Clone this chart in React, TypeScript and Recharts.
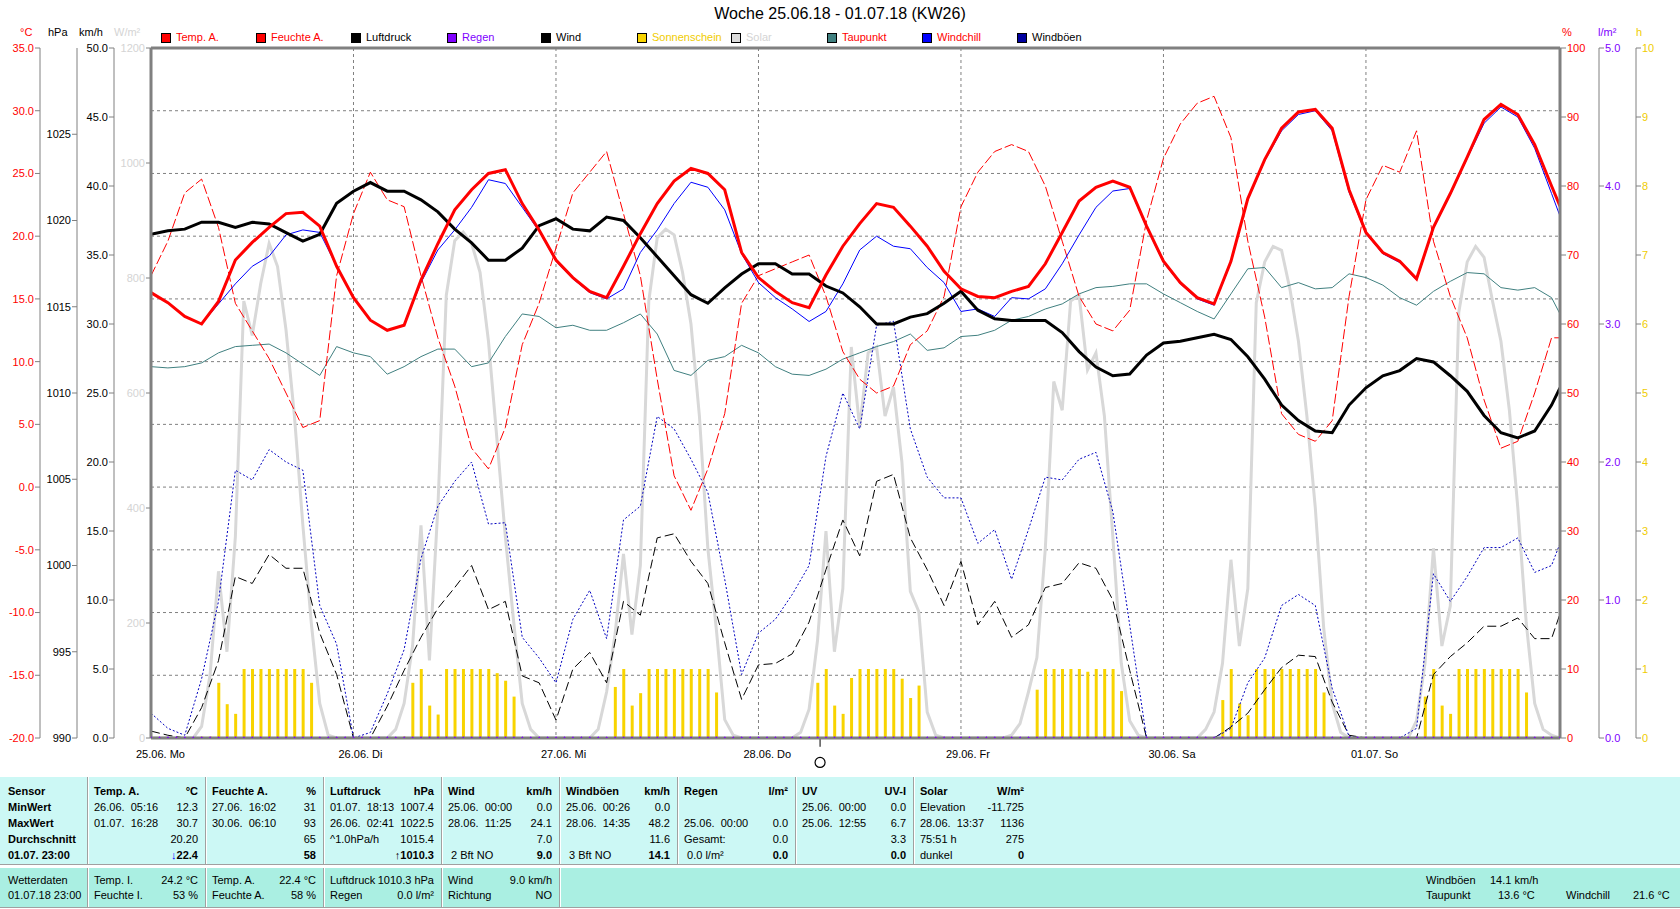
import React from "react";
import { Bar, CartesianGrid, ComposedChart, Line, ReferenceDot, ReferenceLine, XAxis, YAxis } from "recharts";

const FONT = '"Liberation Sans", Arial, sans-serif';

const dayTicks = [0, 24, 48, 72, 96, 120, 144];
const dayLabels = ["25.06. Mo", "26.06. Di", "27.06. Mi", "28.06. Do", "29.06. Fr", "30.06. Sa", "01.07. So"];

// 2-hourly readings: 00:00, 02:00 ... 22:00 per day, last value = 01.07. 23:00
const tempA = [
  15.5, 14.7, 13.6, 13.0, 14.8, 18.1, 19.5, 20.7, 21.8, 21.9, 20.8, 17.6,
  15.1, 13.3, 12.5, 12.9, 16.5, 19.4, 22.1, 23.7, 25.0, 25.3, 22.6, 20.5,
  18.1, 16.7, 15.6, 15.1, 17.6, 20.2, 22.6, 24.4, 25.4, 25.0, 23.7, 18.7,
  16.7, 15.6, 14.7, 14.3, 16.9, 19.2, 21.0, 22.6, 22.3, 20.8, 19.2, 17.2,
  15.8, 15.2, 15.1, 15.6, 16.0, 17.8, 20.3, 22.8, 23.9, 24.4, 23.9, 20.8,
  18.0, 16.3, 15.1, 14.6, 18.0, 23.0, 26.1, 28.6, 29.9, 30.1, 28.6, 23.7,
  20.3, 18.7, 18.0, 16.6, 20.7, 23.4, 26.3, 29.3, 30.5, 29.7, 27.3, 24.0, 22.4,
];
const windchill = [
  15.5, 14.7, 13.6, 13.0, 14.6, 16.2, 17.6, 18.4, 20.1, 20.5, 20.3, 17.6,
  15.1, 13.3, 12.5, 12.9, 16.3, 18.9, 20.5, 22.3, 24.5, 24.2, 22.3, 20.4,
  18.0, 16.6, 15.5, 15.0, 15.8, 18.7, 20.5, 22.6, 24.3, 23.9, 22.1, 18.6,
  16.3, 15.1, 14.2, 13.2, 14.0, 16.2, 18.9, 20.0, 19.2, 19.0, 17.5, 16.3,
  14.0, 14.2, 13.6, 15.1, 15.0, 15.8, 17.8, 20.1, 22.3, 23.6, 23.8, 20.7,
  17.9, 16.2, 15.0, 14.5, 17.9, 22.9, 26.0, 28.4, 29.7, 30.0, 28.4, 23.5,
  20.2, 18.6, 17.9, 16.5, 20.6, 23.3, 26.2, 29.0, 30.3, 29.5, 27.0, 23.4, 21.6,
];
const taupunkt = [
  9.6, 9.5, 9.6, 9.9, 10.7, 11.2, 11.3, 11.4, 10.7, 9.8, 8.9, 11.2,
  10.7, 10.4, 9.0, 9.6, 10.4, 11.0, 11.0, 9.6, 9.9, 12.0, 13.8, 13.6,
  12.7, 12.9, 12.5, 12.5, 13.1, 13.8, 12.2, 9.3, 8.9, 10.1, 10.4, 11.3,
  10.7, 9.6, 9.0, 8.9, 9.4, 10.2, 10.7, 11.2, 11.6, 12.2, 10.9, 11.1,
  12.0, 12.1, 12.5, 13.3, 13.6, 14.2, 14.6, 15.4, 15.9, 16.0, 16.2, 16.2,
  15.4, 14.7, 14.0, 13.4, 15.4, 17.4, 17.5, 15.9, 16.3, 15.8, 15.9, 17.0,
  16.7, 16.1, 15.1, 14.5, 15.6, 16.4, 17.1, 17.0, 15.9, 15.7, 15.9, 15.1, 13.8,
];
const luftdruck = [
  1019.2, 1019.4, 1019.5, 1019.9, 1019.9, 1019.6, 1019.9, 1019.8, 1019.3, 1018.8, 1019.2, 1021.0,
  1021.7, 1022.2, 1021.7, 1021.7, 1021.2, 1020.5, 1019.5, 1018.7, 1017.7, 1017.7, 1018.4, 1019.7,
  1020.1, 1019.5, 1019.4, 1020.2, 1020.0, 1019.0, 1017.9, 1016.8, 1015.7, 1015.2, 1016.1, 1016.9,
  1017.5, 1017.5, 1016.9, 1016.9, 1016.2, 1015.8, 1015.0, 1014.0, 1014.0, 1014.4, 1014.6, 1015.2,
  1015.9, 1014.8, 1014.3, 1014.2, 1014.2, 1014.2, 1013.5, 1012.4, 1011.5, 1011.0, 1011.1, 1012.2,
  1012.9, 1013.0, 1013.2, 1013.4, 1013.1, 1012.1, 1010.8, 1009.3, 1008.4, 1007.8, 1007.7, 1009.3,
  1010.3, 1011.0, 1011.3, 1012.0, 1011.8, 1011.0, 1010.1, 1008.7, 1007.7, 1007.4, 1007.8, 1009.3, 1010.3,
];
const feuchteA = [
  67, 72, 79, 81, 74, 63, 59, 55, 50, 45, 46, 67,
  76, 82, 78, 77, 67, 58, 51, 42, 39, 45, 57, 63,
  71, 79, 82, 85, 76, 67, 52, 38, 33, 39, 47, 63,
  67, 68, 69, 70, 64, 56, 52, 50, 51, 57, 59, 64,
  77, 82, 85, 86, 85, 80, 72, 64, 60, 59, 62, 75,
  84, 89, 92, 93, 87, 72, 61, 47, 44, 43, 46, 64,
  78, 83, 82, 88, 72, 64, 58, 49, 42, 43, 50, 58, 58,
];
const wind = [
  0.5, 0.2, 0.0, 2.2, 5.6, 11.7, 11.2, 13.3, 12.3, 12.3, 7.6, 4.6,
  0.0, 0.0, 2.3, 4.9, 7.3, 9.4, 10.9, 12.5, 9.3, 9.9, 4.5, 4.0,
  1.3, 5.0, 6.2, 4.0, 9.9, 8.9, 14.5, 14.8, 12.8, 11.2, 6.9, 2.8,
  5.3, 5.4, 6.1, 8.4, 12.2, 15.8, 13.2, 18.6, 19.1, 14.5, 12.2, 9.6,
  12.8, 8.2, 9.9, 7.3, 8.2, 10.9, 11.2, 12.7, 12.3, 10.0, 4.9, 0.0,
  0.0, 0.0, 0.0, 0.0, 0.8, 1.8, 3.5, 5.1, 6.0, 5.9, 2.6, 0.2,
  0.0, 0.0, 0.0, 0.0, 4.6, 5.9, 6.9, 8.1, 8.1, 8.7, 7.2, 7.2, 9.0,
];
const windboeen = [
  1.8, 0.7, 0.2, 4.3, 9.9, 19.4, 18.7, 20.9, 20.0, 19.4, 9.6, 6.8,
  0.0, 0.4, 3.2, 6.4, 13.0, 16.8, 18.6, 20.0, 15.5, 15.6, 7.3, 5.8,
  4.0, 8.6, 10.7, 7.2, 15.8, 16.8, 23.3, 22.4, 20.2, 17.8, 11.5, 4.6,
  7.6, 8.6, 10.4, 12.5, 20.4, 25.0, 22.4, 29.9, 30.2, 22.4, 18.9, 17.4,
  17.4, 14.1, 15.1, 11.5, 15.1, 18.9, 18.7, 20.2, 20.7, 16.4, 8.2, 0.0,
  0.0, 0.0, 0.0, 0.0, 0.7, 4.0, 5.8, 9.6, 10.4, 9.6, 3.6, 0.1,
  0.0, 0.0, 0.0, 0.7, 11.9, 9.9, 11.7, 13.8, 13.8, 14.5, 12.0, 12.5, 14.1,
];

// hourly readings, one row per day
const solar = [
  0, 0, 0, 0, 0, 0, 20, 110, 290, 150, 350, 760, 700, 790, 860, 820, 710, 560, 370, 200, 60, 5, 0, 0,
  0, 0, 0, 0, 0, 15, 60, 160, 370, 135, 400, 770, 865, 880, 860, 810, 690, 520, 350, 200, 60, 15, 0, 0,
  0, 0, 0, 0, 0, 15, 80, 180, 320, 180, 300, 760, 870, 885, 875, 810, 720, 560, 330, 190, 32, 5, 0, 0,
  0, 0, 0, 0, 0, 10, 50, 170, 360, 150, 260, 680, 540, 670, 680, 560, 610, 480, 255, 220, 45, 5, 0, 0,
  0, 0, 0, 0, 0, 0, 5, 25, 80, 140, 330, 620, 570, 760, 770, 640, 670, 560, 350, 130, 30, 5, 0, 0,
  0, 0, 0, 0, 0, 15, 45, 130, 310, 160, 260, 757, 828, 855, 848, 780, 690, 560, 400, 190, 60, 10, 0, 0,
  0, 0, 0, 0, 0, 0, 30, 130, 330, 160, 230, 740, 828, 855, 836, 760, 690, 570, 400, 200, 60, 15, 5, 0,
];
const sonnenschein = [
  0, 0, 0, 0, 0, 0, 0.02, 0.02, 0.8, 0.49, 0.35, 1, 1, 1, 1, 1, 1, 1, 1, 0.8, 0, 0, 0, 0,
  0, 0, 0, 0, 0, 0, 0.02, 0.8, 1, 0.47, 0.34, 1, 1, 1, 1, 1, 1, 0.94, 0.83, 0.6, 0, 0, 0, 0,
  0, 0, 0, 0, 0, 0, 0, 0.74, 1, 0.47, 0.65, 1, 1, 1, 1, 1, 1, 1, 1, 0.66, 0, 0, 0, 0,
  0, 0, 0, 0, 0, 0, 0, 0.8, 1, 0.47, 0.35, 0.87, 1, 1, 1, 1, 1, 0.86, 0.58, 0.76, 0, 0, 0, 0,
  0, 0, 0, 0, 0, 0, 0, 0, 0, 0.7, 1, 1, 1, 1, 1, 0.96, 1, 1, 1, 0.68, 0, 0, 0, 0,
  0, 0, 0, 0, 0, 0, 0, 0.55, 1, 0.5, 0.33, 1, 1, 1, 1, 1, 1, 1, 1, 0.66, 0, 0, 0, 0,
  0, 0, 0, 0, 0, 0, 0, 0.6, 1, 0.47, 0.35, 1, 1, 1, 1, 1, 1, 1, 1, 0.66, 0, 0, 0, 0,
];
const regen = [
  0, 0, 0, 0, 0, 0, 0, 0, 0, 0, 0, 0, 0, 0, 0, 0, 0, 0, 0, 0, 0, 0, 0, 0,
  0, 0, 0, 0, 0, 0, 0, 0, 0, 0, 0, 0, 0, 0, 0, 0, 0, 0, 0, 0, 0, 0, 0, 0,
  0, 0, 0, 0, 0, 0, 0, 0, 0, 0, 0, 0, 0, 0, 0, 0, 0, 0, 0, 0, 0, 0, 0, 0,
  0, 0, 0, 0, 0, 0, 0, 0, 0, 0, 0, 0, 0, 0, 0, 0, 0, 0, 0, 0, 0, 0, 0, 0,
  0, 0, 0, 0, 0, 0, 0, 0, 0, 0, 0, 0, 0, 0, 0, 0, 0, 0, 0, 0, 0, 0, 0, 0,
  0, 0, 0, 0, 0, 0, 0, 0, 0, 0, 0, 0, 0, 0, 0, 0, 0, 0, 0, 0, 0, 0, 0, 0,
  0, 0, 0, 0, 0, 0, 0, 0, 0, 0, 0, 0, 0, 0, 0, 0, 0, 0, 0, 0, 0, 0, 0, 0,
];

const tempTicks = [-20, -15, -10, -5, 0, 5, 10, 15, 20, 25, 30, 35];
const hpaTicks = [990, 995, 1000, 1005, 1010, 1015, 1020, 1025];
const kmhTicks = [0, 5, 10, 15, 20, 25, 30, 35, 40, 45, 50];
const solarTicks = [0, 200, 400, 600, 800, 1000, 1200];
const humTicks = [0, 10, 20, 30, 40, 50, 60, 70, 80, 90, 100];
const rainTicks = [0, 1, 2, 3, 4, 5];
const sunTicks = [0, 1, 2, 3, 4, 5, 6, 7, 8, 9, 10];

const rows: any[] = [];
for (let h = 0; h < 168; h++) {
  const j = h === 167 ? 84 : h % 2 === 0 ? h / 2 : -1;
  const pick = (a: number[]) => (j >= 0 ? a[j] : null);
  rows.push({
    h,
    sun: sonnenschein[h],
    solar: solar[h],
    rain: regen[h],
    temp: pick(tempA),
    chill: pick(windchill),
    dew: pick(taupunkt),
    press: pick(luftdruck),
    hum: pick(feuchteA),
    wind: pick(wind),
    gust: pick(windboeen),
  });
}

const legendItems = [
  { label: "Temp. A.", box: "#ff0000", text: "#ff0000", x: 161 },
  { label: "Feuchte A.", box: "#ff0000", text: "#ff0000", x: 256 },
  { label: "Luftdruck", box: "#000000", text: "#000000", x: 351 },
  { label: "Regen", box: "#8000ff", text: "#8000ff", x: 447 },
  { label: "Wind", box: "#000000", text: "#000000", x: 541 },
  { label: "Sonnenschein", box: "#f8d400", text: "#f0cc00", x: 637 },
  { label: "Solar", box: "#dcdcdc", text: "#d4d4d4", x: 731 },
  { label: "Taupunkt", box: "#408080", text: "#ff0000", x: 827 },
  { label: "Windchill", box: "#0000ff", text: "#ff0000", x: 922 },
  { label: "Windböen", box: "#0000a0", text: "#000000", x: 1017 },
];

const unitLabels = [
  { t: "°C", x: 20, c: "#ff0000" },
  { t: "hPa", x: 48, c: "#000000" },
  { t: "km/h", x: 79, c: "#000000" },
  { t: "W/m²", x: 114, c: "#d4d4d4" },
  { t: "%", x: 1562, c: "#ff0000" },
  { t: "l/m²", x: 1598, c: "#8000ff" },
  { t: "h", x: 1636, c: "#f0cc00" },
];

const sensorLabels = ["Sensor", "MinWert", "MaxWert", "Durchschnitt", "01.07. 23:00"];
const statCols = [
  { head: "Temp. A.", unit: "°C", left: ["26.06.  05:16", "01.07.  16:28", "", ""], right: ["12.3", "30.7", "20.20", "22.4"], arrow: "↓", arrowColor: "#0000ff" },
  { head: "Feuchte A.", unit: "%", left: ["27.06.  16:02", "30.06.  06:10", "", ""], right: ["31", "93", "65", "58"] },
  { head: "Luftdruck", unit: "hPa", left: ["01.07.  18:13", "26.06.  02:41", "^1.0hPa/h", ""], right: ["1007.4", "1022.5", "1015.4", "1010.3"], arrow: "↑", arrowColor: "#000000" },
  { head: "Wind", unit: "km/h", left: ["25.06.  00:00", "28.06.  11:25", "", " 2 Bft NO"], right: ["0.0", "24.1", "7.0", "9.0"] },
  { head: "Windböen", unit: "km/h", left: ["25.06.  00:26", "28.06.  14:35", "", " 3 Bft NO"], right: ["0.0", "48.2", "11.6", "14.1"] },
  { head: "Regen", unit: "l/m²", left: ["", "25.06.  00:00", "Gesamt:", " 0.0 l/m²"], right: ["", "0.0", "0.0", "0.0"] },
  { head: "UV", unit: "UV-I", left: ["25.06.  00:00", "25.06.  12:55", "", ""], right: ["0.0", "6.7", "3.3", "0.0"] },
  { head: "Solar", unit: "W/m²", left: ["Elevation", "28.06.  13:37", "75:51 h", "dunkel"], right: ["-11.725", "1136", "275", "0"] },
];
const nowCols = [
  { a: ["Temp. I.", "Feuchte I."], b: ["24.2 °C", "53 %"] },
  { a: ["Temp. A.", "Feuchte A."], b: ["22.4 °C", "58 %"] },
  { a: ["Luftdruck", "Regen"], b: ["1010.3 hPa", "0.0 l/m²"] },
  { a: ["Wind", "Richtung"], b: ["9.0 km/h", "NO"] },
];

const DayTick = (props: any) => {
  const { x, y, index } = props;
  return (
    <text x={x - 15} y={y + 12} fontSize={11} fill="#000" fontFamily={FONT}>
      {dayLabels[index]}
    </text>
  );
};

const axisGray = "#808080";
const yCommon = {
  axisLine: { stroke: axisGray },
  tickLine: { stroke: axisGray },
  tickSize: 5,
  tickMargin: 1,
  interval: 0 as const,
  allowDataOverflow: true,
};

function Table() {
  const colW = 118;
  const base = 87;
  const txt: React.CSSProperties = { position: "absolute", fontSize: 11, whiteSpace: "pre", lineHeight: "13px" };
  const rowY = [8, 24, 40, 56, 72];
  return (
    <>
      <div style={{ position: "absolute", left: 0, top: 777, width: 1680, height: 88, background: "#ccf8f5" }}>
        {sensorLabels.map((s, i) => (
          <div key={s} style={{ ...txt, left: 8, top: rowY[i], fontWeight: "bold" }}>{s}</div>
        ))}
        {statCols.map((c, k) => {
          const l = base + k * colW;
          return (
            <React.Fragment key={c.head}>
              <div style={{ position: "absolute", left: l, top: 0, width: 1, height: 88, background: "#a0a0a0" }} />
              <div style={{ position: "absolute", left: l + 1, top: 0, width: 1, height: 88, background: "#ffffff" }} />
              <div style={{ ...txt, left: l + 7, top: rowY[0], fontWeight: "bold" }}>{c.head}</div>
              <div style={{ ...txt, left: l, width: colW - 7, textAlign: "right", top: rowY[0], fontWeight: "bold" }}>{c.unit}</div>
              {c.left.map((s, i) => (
                <div key={"l" + i} style={{ ...txt, left: l + 7, top: rowY[i + 1] }}>{s}</div>
              ))}
              {c.right.map((s, i) => (
                <div key={"r" + i} style={{ ...txt, left: l, width: colW - 7, textAlign: "right", top: rowY[i + 1], fontWeight: i === 3 ? "bold" : "normal" }}>
                  {i === 3 && c.arrow ? <span style={{ color: c.arrowColor }}>{c.arrow}</span> : null}
                  {s}
                </div>
              ))}
            </React.Fragment>
          );
        })}
        <div style={{ position: "absolute", left: 0, top: 87, width: 1680, height: 1, background: "#a0a0a0" }} />
      </div>
      <div style={{ position: "absolute", left: 0, top: 868, width: 1680, height: 39, background: "#aaefe2", borderBottom: "1px solid #a0a0a0" }}>
        <div style={{ ...txt, left: 8, top: 6 }}>Wetterdaten</div>
        <div style={{ ...txt, left: 8, top: 21 }}>01.07.18 23:00</div>
        {nowCols.map((c, k) => {
          const l = base + k * colW;
          return (
            <React.Fragment key={k}>
              <div style={{ position: "absolute", left: l, top: 0, width: 1, height: 39, background: "#a0a0a0" }} />
              <div style={{ position: "absolute", left: l + 1, top: 0, width: 1, height: 39, background: "#ffffff" }} />
              {c.a.map((s, i) => (
                <div key={"a" + i} style={{ ...txt, left: l + 7, top: 6 + i * 15 }}>{s}</div>
              ))}
              {c.b.map((s, i) => (
                <div key={"b" + i} style={{ ...txt, left: l, width: colW - 7, textAlign: "right", top: 6 + i * 15 }}>{s}</div>
              ))}
            </React.Fragment>
          );
        })}
        <div style={{ position: "absolute", left: base + 4 * colW, top: 0, width: 1, height: 39, background: "#a0a0a0" }} />
        <div style={{ position: "absolute", left: base + 4 * colW + 1, top: 0, width: 1, height: 39, background: "#ffffff" }} />
        <div style={{ ...txt, left: 1426, top: 6 }}>Windböen</div>
        <div style={{ ...txt, left: 1490, top: 6 }}>14.1 km/h</div>
        <div style={{ ...txt, left: 1426, top: 21 }}>Taupunkt</div>
        <div style={{ ...txt, left: 1498, top: 21 }}>13.6 °C</div>
        <div style={{ ...txt, left: 1566, top: 21 }}>Windchill</div>
        <div style={{ ...txt, left: 1633, top: 21 }}>21.6 °C</div>
      </div>
    </>
  );
}

// axis ids are ordered alphabetically by the library: a_ sits next to the plot, d_ outermost
export default function App() {
  return (
    <div style={{ position: "absolute", left: 0, top: 0, width: 1680, height: 909, background: "#fff", fontFamily: FONT, overflow: "hidden" }}>
      <div style={{ position: "absolute", left: 0, width: 1680, top: 5, textAlign: "center", fontSize: 16, color: "#000" }}>
        Woche 25.06.18 - 01.07.18 (KW26)
      </div>
      {legendItems.map((it) => (
        <React.Fragment key={it.label}>
          <div style={{ position: "absolute", left: it.x, top: 33, width: 8, height: 8, background: it.box, border: "1px solid #000" }} />
          <div style={{ position: "absolute", left: it.x + 15, top: 31, fontSize: 11, color: it.text, whiteSpace: "pre" }}>{it.label}</div>
        </React.Fragment>
      ))}
      {unitLabels.map((u) => (
        <div key={u.t} style={{ position: "absolute", left: u.x, top: 26, fontSize: 11, color: u.c }}>{u.t}</div>
      ))}
      <div style={{ position: "absolute", left: 0, top: 0 }}>
        <ComposedChart width={1680} height={770} data={rows} margin={{ top: 48, right: 0, bottom: 2, left: 0 }} style={{ fontFamily: FONT }}>
          <CartesianGrid yAxisId="d_t" stroke={axisGray} strokeDasharray="3 3" />
          <XAxis
            dataKey="h"
            type="number"
            domain={[0, 167]}
            ticks={dayTicks}
            interval={0}
            height={30}
            tick={<DayTick />}
            tickLine={false}
            axisLine={{ stroke: axisGray, strokeWidth: 3 }}
            allowDataOverflow
          />
          <YAxis yAxisId="a_solar" orientation="left" width={37} domain={[0, 1200]} ticks={solarTicks} tick={{ fill: "#d4d4d4", fontSize: 11 }} {...yCommon} axisLine={{ stroke: axisGray, strokeWidth: 3 }} />
          <YAxis yAxisId="b_wind" orientation="left" width={37} domain={[0, 50]} ticks={kmhTicks} tick={{ fill: "#000", fontSize: 11 }} tickFormatter={(v: number) => v.toFixed(1)} {...yCommon} />
          <YAxis yAxisId="c_p" orientation="left" width={37} domain={[990, 1030]} ticks={hpaTicks} tick={{ fill: "#000", fontSize: 11 }} {...yCommon} />
          <YAxis yAxisId="d_t" orientation="left" width={40} domain={[-20, 35]} ticks={tempTicks} tick={{ fill: "#ff0000", fontSize: 11 }} tickFormatter={(v: number) => v.toFixed(1)} {...yCommon} />
          <YAxis yAxisId="e_hum" orientation="right" width={39} domain={[0, 100]} ticks={humTicks} tick={{ fill: "#ff0000", fontSize: 11 }} {...yCommon} tickSize={6} axisLine={{ stroke: axisGray, strokeWidth: 3 }} />
          <YAxis yAxisId="f_rain" orientation="right" width={37} domain={[0, 5]} ticks={rainTicks} tick={{ fill: "#8000ff", fontSize: 11 }} tickFormatter={(v: number) => v.toFixed(1)} {...yCommon} />
          <YAxis yAxisId="g_sun" orientation="right" width={44} domain={[0, 10]} ticks={sunTicks} tick={{ fill: "#f0cc00", fontSize: 11 }} {...yCommon} />

          <ReferenceLine yAxisId="d_t" y={35} stroke={axisGray} strokeWidth={3} />

          <Line yAxisId="a_solar" dataKey="solar" type="linear" stroke="#d8d8d8" strokeWidth={3} dot={false} activeDot={false} isAnimationActive={false} />
          <Bar yAxisId="g_sun" dataKey="sun" fill="#f8d400" barSize={3} isAnimationActive={false} />
          <Line yAxisId="d_t" dataKey="dew" type="linear" stroke="#408080" strokeWidth={1} dot={false} activeDot={false} connectNulls isAnimationActive={false} />
          <Line yAxisId="b_wind" dataKey="wind" type="linear" stroke="#000000" strokeWidth={1} strokeDasharray="9 4" dot={false} activeDot={false} connectNulls isAnimationActive={false} />
          <Line yAxisId="b_wind" dataKey="gust" type="linear" stroke="#0000c0" strokeWidth={1} strokeDasharray="2 2" dot={false} activeDot={false} connectNulls isAnimationActive={false} />
          <Line yAxisId="e_hum" dataKey="hum" type="linear" stroke="#ff0000" strokeWidth={1} strokeDasharray="10 3" dot={false} activeDot={false} connectNulls isAnimationActive={false} />
          <Line yAxisId="d_t" dataKey="chill" type="linear" stroke="#0000ff" strokeWidth={1} dot={false} activeDot={false} connectNulls isAnimationActive={false} />
          <Line yAxisId="c_p" dataKey="press" type="linear" stroke="#000000" strokeWidth={3} dot={false} activeDot={false} connectNulls isAnimationActive={false} />
          <Line yAxisId="d_t" dataKey="temp" type="linear" stroke="#ff0000" strokeWidth={3} dot={false} activeDot={false} connectNulls isAnimationActive={false} />
          <Line yAxisId="f_rain" dataKey="rain" type="linear" stroke="#8000ff" strokeWidth={1} strokeDasharray="1 3" dot={{ r: 1, fill: "#8000ff", stroke: "#8000ff" }} activeDot={false} isAnimationActive={false} />

          <ReferenceLine yAxisId="d_t" segment={[{ x: 79.3, y: -20 }, { x: 79.3, y: -20.7 }]} stroke="#000" ifOverflow="visible" />
          <ReferenceDot yAxisId="d_t" x={79.3} y={-21.95} r={5} fill="#fff" stroke="#000" strokeWidth={1.2} ifOverflow="visible" />
        </ComposedChart>
      </div>
      <Table />
    </div>
  );
}
